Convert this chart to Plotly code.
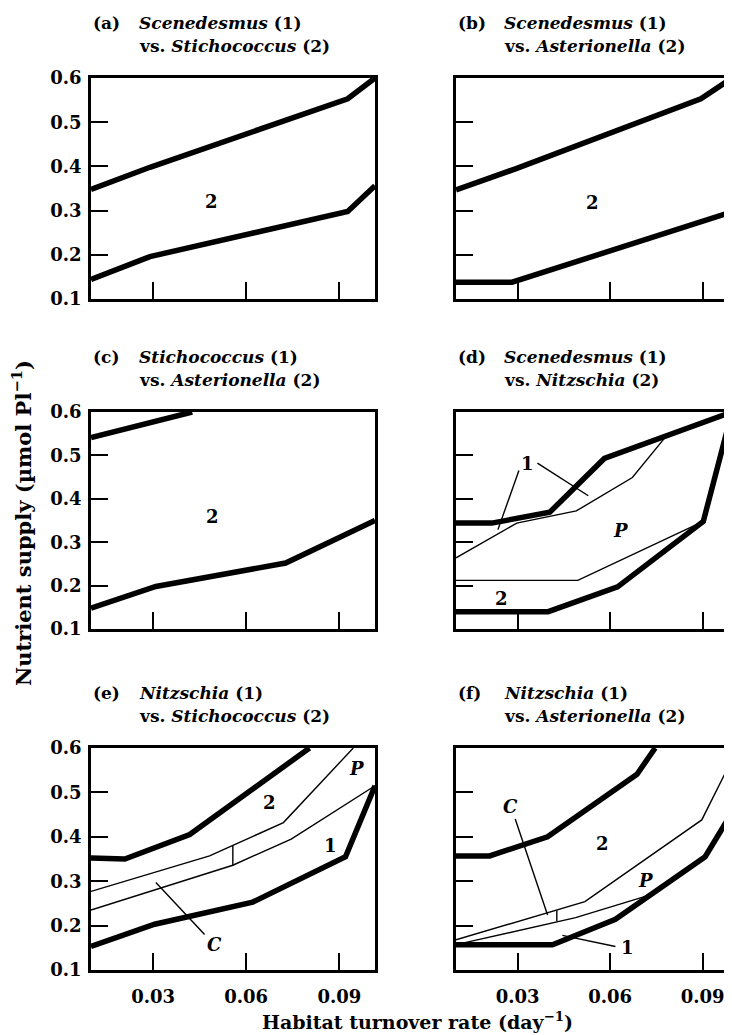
import plotly.graph_objects as go

W, H = 732, 1035
FONT = "DejaVu Serif"
OFF = 8  # the page body margin shifts the figure by this many pixels

# ---------------- data ----------------
# (a) Scenedesmus vs Stichococcus
a_upper_x = [0.010, 0.029, 0.0927, 0.1015]
a_upper_y = [0.348, 0.398, 0.553, 0.600]
a_lower_x = [0.010, 0.029, 0.0927, 0.1015]
a_lower_y = [0.144, 0.196, 0.298, 0.356]

# (b) Scenedesmus vs Asterionella
b_upper_x = [0.010, 0.0295, 0.0894, 0.0995]
b_upper_y = [0.347, 0.395, 0.553, 0.600]
b_lower_x = [0.010, 0.0282, 0.1021]
b_lower_y = [0.138, 0.138, 0.303]

# (c) Stichococcus vs Asterionella
c_upper_x = [0.010, 0.0426]
c_upper_y = [0.541, 0.600]
c_lower_x = [0.010, 0.0309, 0.0727, 0.1015]
c_lower_y = [0.148, 0.198, 0.252, 0.350]

# (d) Scenedesmus vs Nitzschia
d_upper_x = [0.010, 0.0216, 0.0404, 0.0581, 0.0995]
d_upper_y = [0.344, 0.344, 0.369, 0.493, 0.600]
d_lower_x = [0.010, 0.0399, 0.0624, 0.0902, 0.0995]
d_lower_y = [0.140, 0.140, 0.197, 0.348, 0.600]
d_thin1_x = [0.010, 0.0297, 0.049, 0.0672, 0.0779]
d_thin1_y = [0.264, 0.344, 0.372, 0.449, 0.542]
d_thin2_x = [0.010, 0.0495, 0.0902]
d_thin2_y = [0.212, 0.212, 0.348]
d_ptr1_x = [0.0304, 0.0236]
d_ptr1_y = [0.465, 0.329]
d_ptr2_x = [0.0364, 0.0529]
d_ptr2_y = [0.482, 0.407]

# (e) Nitzschia vs Stichococcus
e_upper_x = [0.010, 0.0209, 0.0418, 0.0804]
e_upper_y = [0.352, 0.350, 0.405, 0.600]
e_lower_x = [0.010, 0.0305, 0.0621, 0.0920, 0.1015]
e_lower_y = [0.153, 0.203, 0.253, 0.355, 0.515]
e_thin1_x = [0.010, 0.0482, 0.072, 0.0945]
e_thin1_y = [0.277, 0.357, 0.432, 0.600]
e_thin2_x = [0.010, 0.0557, 0.0745, 0.1015]
e_thin2_y = [0.235, 0.336, 0.395, 0.515]
e_bar_x = [0.0557, 0.0557]
e_bar_y = [0.336, 0.380]
e_ptrC_x = [0.0309, 0.0466]
e_ptrC_y = [0.297, 0.180]

# (f) Nitzschia vs Asterionella
f_upper_x = [0.010, 0.0209, 0.0397, 0.0687, 0.0746]
f_upper_y = [0.357, 0.357, 0.400, 0.541, 0.600]
f_lower_x = [0.010, 0.0413, 0.0617, 0.0908, 0.1021]
f_lower_y = [0.157, 0.157, 0.214, 0.355, 0.485]
f_thin1_x = [0.010, 0.0518, 0.0897, 0.1021]
f_thin1_y = [0.168, 0.254, 0.438, 0.610]
f_thin2_x = [0.010, 0.0488, 0.0714]
f_thin2_y = [0.157, 0.218, 0.266]
f_bar_x = [0.0427, 0.0427]
f_bar_y = [0.210, 0.234]
f_ptrC_x = [0.0292, 0.0397]
f_ptrC_y = [0.440, 0.224]
f_ptr1_x = [0.0617, 0.0445]
f_ptr1_y = [0.153, 0.178]

x_ticks = [0.03, 0.06, 0.09]
x_tick_text = ["0.03", "0.06", "0.09"]
y_ticks = [0.1, 0.2, 0.3, 0.4, 0.5, 0.6]
y_tick_text = ["0.1", "0.2", "0.3", "0.4", "0.5", "0.6"]

panel_letters = ["(a)", "(b)", "(c)", "(d)", "(e)", "(f)"]
panel_sp1 = ["Scenedesmus", "Scenedesmus", "Stichococcus", "Scenedesmus", "Nitzschia", "Nitzschia"]
panel_sp2 = ["Stichococcus", "Asterionella", "Asterionella", "Nitzschia", "Stichococcus", "Asterionella"]

# ---------------- layout geometry (target pixel positions in the screenshot) ----------------
def px_x(p):
    return (p - OFF) / W

def px_y(p):
    return 1 - (p - OFF) / H

col_dom = [[px_x(91), px_x(375)], [px_x(456), 1.0]]
row_dom = [[px_y(299), px_y(78)], [px_y(629), px_y(412)], [px_y(970), px_y(748)]]
x_range = [[0.010, 0.1015], [0.010, 0.1021]]

THICK = 5.5
THIN = 1.4

fig = go.Figure()

def add_line(panel, xs, ys, w):
    n = "" if panel == 1 else str(panel)
    fig.add_trace(go.Scatter(x=xs, y=ys, mode="lines",
                             line=dict(color="black", width=w),
                             xaxis="x" + n, yaxis="y" + n,
                             showlegend=False, hoverinfo="skip",
                             cliponaxis=True))

add_line(1, a_upper_x, a_upper_y, THICK)
add_line(1, a_lower_x, a_lower_y, THICK)
add_line(2, b_upper_x, b_upper_y, THICK)
add_line(2, b_lower_x, b_lower_y, THICK)
add_line(3, c_upper_x, c_upper_y, THICK)
add_line(3, c_lower_x, c_lower_y, THICK)

add_line(4, d_thin1_x, d_thin1_y, THIN)
add_line(4, d_thin2_x, d_thin2_y, THIN)
add_line(4, d_ptr1_x, d_ptr1_y, THIN)
add_line(4, d_ptr2_x, d_ptr2_y, THIN)
add_line(4, d_upper_x, d_upper_y, THICK)
add_line(4, d_lower_x, d_lower_y, THICK)

add_line(5, e_thin1_x, e_thin1_y, THIN)
add_line(5, e_thin2_x, e_thin2_y, THIN)
add_line(5, e_bar_x, e_bar_y, THIN)
add_line(5, e_ptrC_x, e_ptrC_y, THIN)
add_line(5, e_upper_x, e_upper_y, THICK)
add_line(5, e_lower_x, e_lower_y, THICK)

add_line(6, f_thin1_x, f_thin1_y, THIN)
add_line(6, f_thin2_x, f_thin2_y, THIN)
add_line(6, f_bar_x, f_bar_y, THIN)
add_line(6, f_ptrC_x, f_ptrC_y, THIN)
add_line(6, f_ptr1_x, f_ptr1_y, THIN)
add_line(6, f_upper_x, f_upper_y, THICK)
add_line(6, f_lower_x, f_lower_y, THICK)

layout = dict(
    width=W, height=H,
    margin=dict(l=0, r=0, t=0, b=0, pad=0, autoexpand=False),
    paper_bgcolor="white", plot_bgcolor="white",
    font=dict(family=FONT, size=16, color="black"),
    showlegend=False,
)

annotations = []
for i in range(6):
    panel = i + 1
    r, c = divmod(i, 2)
    n = "" if panel == 1 else str(panel)
    bottom_row = (r == 2)
    left_col = (c == 0)
    layout["xaxis" + n] = dict(
        domain=col_dom[c], anchor="y" + n, range=x_range[c],
        showgrid=False, zeroline=False, automargin=False,
        showline=True, linecolor="black", linewidth=2.5, mirror=True,
        ticks="inside", ticklen=17, tickwidth=2, tickcolor="black",
        tickvals=x_ticks, ticktext=x_tick_text,
        showticklabels=bottom_row, ticklabelstandoff=9,
        tickfont=dict(family=FONT, size=18, weight="bold"),
    )
    layout["yaxis" + n] = dict(
        domain=row_dom[r], anchor="x" + n, range=[0.1, 0.6],
        showgrid=False, zeroline=False, automargin=False,
        showline=True, linecolor="black", linewidth=2.5,
        mirror=True if left_col else False,
        ticks="inside", ticklen=17, tickwidth=2, tickcolor="black",
        tickvals=y_ticks, ticktext=y_tick_text,
        showticklabels=left_col, ticklabelstandoff=3,
        tickfont=dict(family=FONT, size=18, weight="bold"),
    )
    xd, yd = "x" + n + " domain", "y" + n + " domain"
    tf = dict(family=FONT, size=17, color="black")
    annotations.append(dict(text="<b>" + panel_letters[i] + "</b>", xref=xd, yref=yd,
                            x=0, y=1, xanchor="left", yanchor="middle",
                            yshift=55, showarrow=False, font=tf))
    annotations.append(dict(text="<b><i>" + panel_sp1[i] + "</i> (1)</b>", xref=xd, yref=yd,
                            x=0, y=1, xanchor="left", yanchor="middle",
                            xshift=46, yshift=55, showarrow=False, font=tf))
    annotations.append(dict(text="<b>vs. <i>" + panel_sp2[i] + "</i> (2)</b>", xref=xd, yref=yd,
                            x=0, y=1, xanchor="left", yanchor="middle",
                            xshift=46, yshift=32, showarrow=False, font=tf))

def label(panel, x, y, t, italic=False):
    n = "" if panel == 1 else str(panel)
    s = "<b><i>%s</i></b>" % t if italic else "<b>%s</b>" % t
    annotations.append(dict(text=s, x=x, y=y, xref="x" + n, yref="y" + n,
                            showarrow=False, font=dict(family=FONT, size=18, color="black")))

label(1, 0.0489, 0.321, "2")
label(2, 0.0542, 0.318, "2")
label(3, 0.0491, 0.360, "2")
label(4, 0.0332, 0.482, "1")
label(4, 0.0632, 0.327, "P", True)
label(4, 0.0249, 0.171, "2")
label(5, 0.0675, 0.477, "2")
label(5, 0.0873, 0.380, "1")
label(5, 0.0955, 0.553, "P", True)
label(5, 0.0498, 0.158, "C", True)
label(6, 0.0278, 0.469, "C", True)
label(6, 0.0574, 0.386, "2")
label(6, 0.0714, 0.301, "P", True)
label(6, 0.0655, 0.150, "1")

annotations.append(dict(text="<b>Nutrient supply (µmol Pl<sup>−1</sup>)</b>",
                        xref="paper", yref="paper", x=px_x(22), y=px_y(523),
                        xanchor="center", yanchor="middle", textangle=-90,
                        showarrow=False, font=dict(family=FONT, size=21, color="black")))
annotations.append(dict(text="<b>Habitat turnover rate (day<sup>−1</sup>)</b>",
                        xref="paper", yref="paper", x=px_x(417), y=px_y(1021),
                        xanchor="center", yanchor="middle",
                        showarrow=False, font=dict(family=FONT, size=19, color="black")))

layout["annotations"] = annotations
fig.update_layout(**layout)
fig.write_html("out.html")
